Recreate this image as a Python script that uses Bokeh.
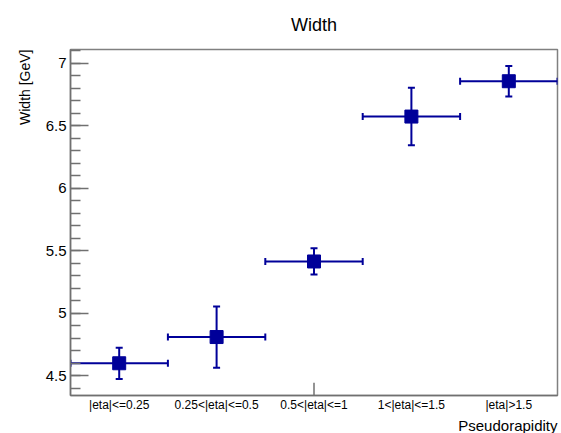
from bokeh.plotting import figure
from bokeh.models import (ColumnDataSource, Whisker, TeeHead, Title, FixedTicker,
                          SingleIntervalTicker, NumeralTickFormatter, Range1d)
from bokeh.embed import file_html
from bokeh.resources import INLINE

categories = ["|eta|<=0.25", "0.25<|eta|<=0.5", "0.5<|eta|<=1", "1<|eta|<=1.5", "|eta|>1.5"]
width_gev = [4.60, 4.81, 5.415, 6.575, 6.858]
width_err = [0.125, 0.245, 0.105, 0.23, 0.122]
bin_half = [0.5, 0.5, 0.5, 0.5, 0.5]

y_min, y_max = 4.342, 7.112
FONT = "Liberation Sans"
BLUE = "#000099"
GREY = "#707070"

xs = [i + 0.5 for i in range(len(categories))]
src = ColumnDataSource(dict(
    x=xs, y=width_gev,
    ylo=[v - e for v, e in zip(width_gev, width_err)],
    yhi=[v + e for v, e in zip(width_gev, width_err)],
    xlo=[x - h for x, h in zip(xs, bin_half)],
    xhi=[x + h for x, h in zip(xs, bin_half)],
))

p = figure(width=561, height=433, output_backend="svg", toolbar_location=None,
           x_range=Range1d(0, len(categories)), y_range=Range1d(y_min, y_max),
           min_border_left=70, min_border_right=4, min_border_top=49, min_border_bottom=33)
p.background_fill_color = "white"
p.border_fill_color = "white"
p.outline_line_color = "#808080"
p.outline_line_width = 1.5
p.xgrid.visible = False
p.ygrid.visible = False

p.title.text = "Width"
p.title.align = "center"
p.title.vertical_align = "top"
p.title.text_font = FONT
p.title.text_font_size = "18px"
p.title.text_font_style = "normal"
p.title.text_color = "black"
p.title.standoff = 26

# horizontal (bin width) error bars
p.add_layout(Whisker(source=src, base="y", lower="xlo", upper="xhi", dimension="width",
                     line_color=BLUE, line_width=2,
                     lower_head=TeeHead(size=7, line_color=BLUE, line_width=2),
                     upper_head=TeeHead(size=7, line_color=BLUE, line_width=2)))
# vertical error bars
p.add_layout(Whisker(source=src, base="x", lower="ylo", upper="yhi", dimension="height",
                     line_color=BLUE, line_width=2,
                     lower_head=TeeHead(size=7, line_color=BLUE, line_width=2),
                     upper_head=TeeHead(size=7, line_color=BLUE, line_width=2)))
p.scatter("x", "y", source=src, marker="square", size=13, fill_color=BLUE, line_color=BLUE)

# y axis
ya = p.yaxis[0]
ya.ticker = SingleIntervalTicker(interval=0.5, num_minor_ticks=5)
ya.formatter = NumeralTickFormatter(format="0.[0]")
ya.major_tick_in = 18
ya.major_tick_out = 0
ya.minor_tick_in = 10
ya.minor_tick_out = 0
ya.axis_line_color = GREY
ya.major_tick_line_color = GREY
ya.minor_tick_line_color = GREY
ya.major_tick_line_width = 1.5
ya.minor_tick_line_width = 1.5
ya.axis_line_width = 1.5
ya.major_label_text_font = FONT
ya.major_label_text_font_size = "15px"
ya.major_label_text_color = "black"
ya.major_label_standoff = 4

# x axis
xa = p.xaxis[0]
xa.ticker = FixedTicker(ticks=xs)
xa.major_label_overrides = {x: c for x, c in zip(xs, categories)}
xa.major_tick_in = 0
xa.major_tick_out = 0
xa.minor_tick_line_color = None
xa.axis_line_color = GREY
xa.axis_line_width = 1.5
xa.major_label_text_font = FONT
xa.major_label_text_font_size = "12px"
xa.major_label_text_color = "black"
xa.major_label_standoff = 2

# single central tick on the x axis
mid = len(categories) / 2
p.segment(x0=[mid], y0=[y_min], x1=[mid], y1=[y_min + 13 / 126.8],
          line_color=GREY, line_width=1.5)

p.add_layout(Title(text="Width [GeV]", align="right", text_font=FONT, text_font_size="14px",
                   text_font_style="normal", text_color="black", standoff=20), "left")
p.add_layout(Title(text="Pseudorapidity", align="right", text_font=FONT, text_font_size="15px",
                   text_font_style="normal", text_color="black", standoff=0), "below")

open("out.html", "w").write(file_html(p, INLINE))
